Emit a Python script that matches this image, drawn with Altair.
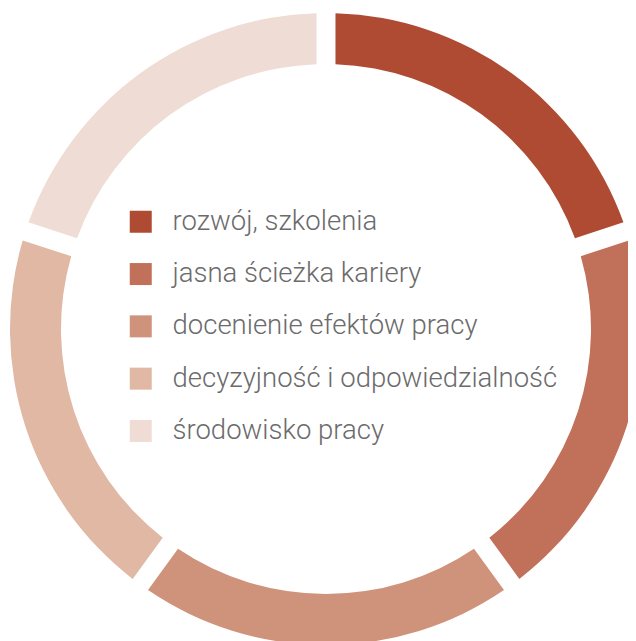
import altair as alt
import pandas as pd

categories = ["rozwój, szkolenia", "jasna ścieżka kariery", "docenienie efektów pracy",
              "decyzyjność i odpowiedzialność", "środowisko pracy"]
values = [20, 20, 20, 20, 20]
colors = ["#B04B33", "#C1705A", "#CF937B", "#E0B8A4", "#EFDCD4"]

df = pd.DataFrame({"kategoria": categories, "udzial": values, "kolejnosc": list(range(len(categories)))})

chart = alt.Chart(df).mark_arc(
    innerRadius=265, outerRadius=316, padAngle=0.046
).encode(
    theta=alt.Theta("udzial:Q", stack=True),
    order=alt.Order("kolejnosc:Q"),
    color=alt.Color(
        "kategoria:N",
        scale=alt.Scale(domain=categories, range=colors),
        legend=alt.Legend(
            title=None, orient="none", legendX=119, legendY=200,
            symbolType="square", symbolSize=484, symbolStrokeWidth=0,
            labelFontSize=27.5, labelFont="Roboto", labelFontWeight=300,
            labelColor="#6b6b6b", labelOffset=18, rowPadding=23.3,
            padding=0, labelLimit=500,
        ),
    ),
    x=alt.value(318),
    y=alt.value(321),
).properties(
    width=620, height=633, autosize=alt.AutoSizeParams(type="none"), padding=0
).configure_view(strokeWidth=0)

chart.save("out.html", embed_options={"renderer": "svg", "actions": False})
